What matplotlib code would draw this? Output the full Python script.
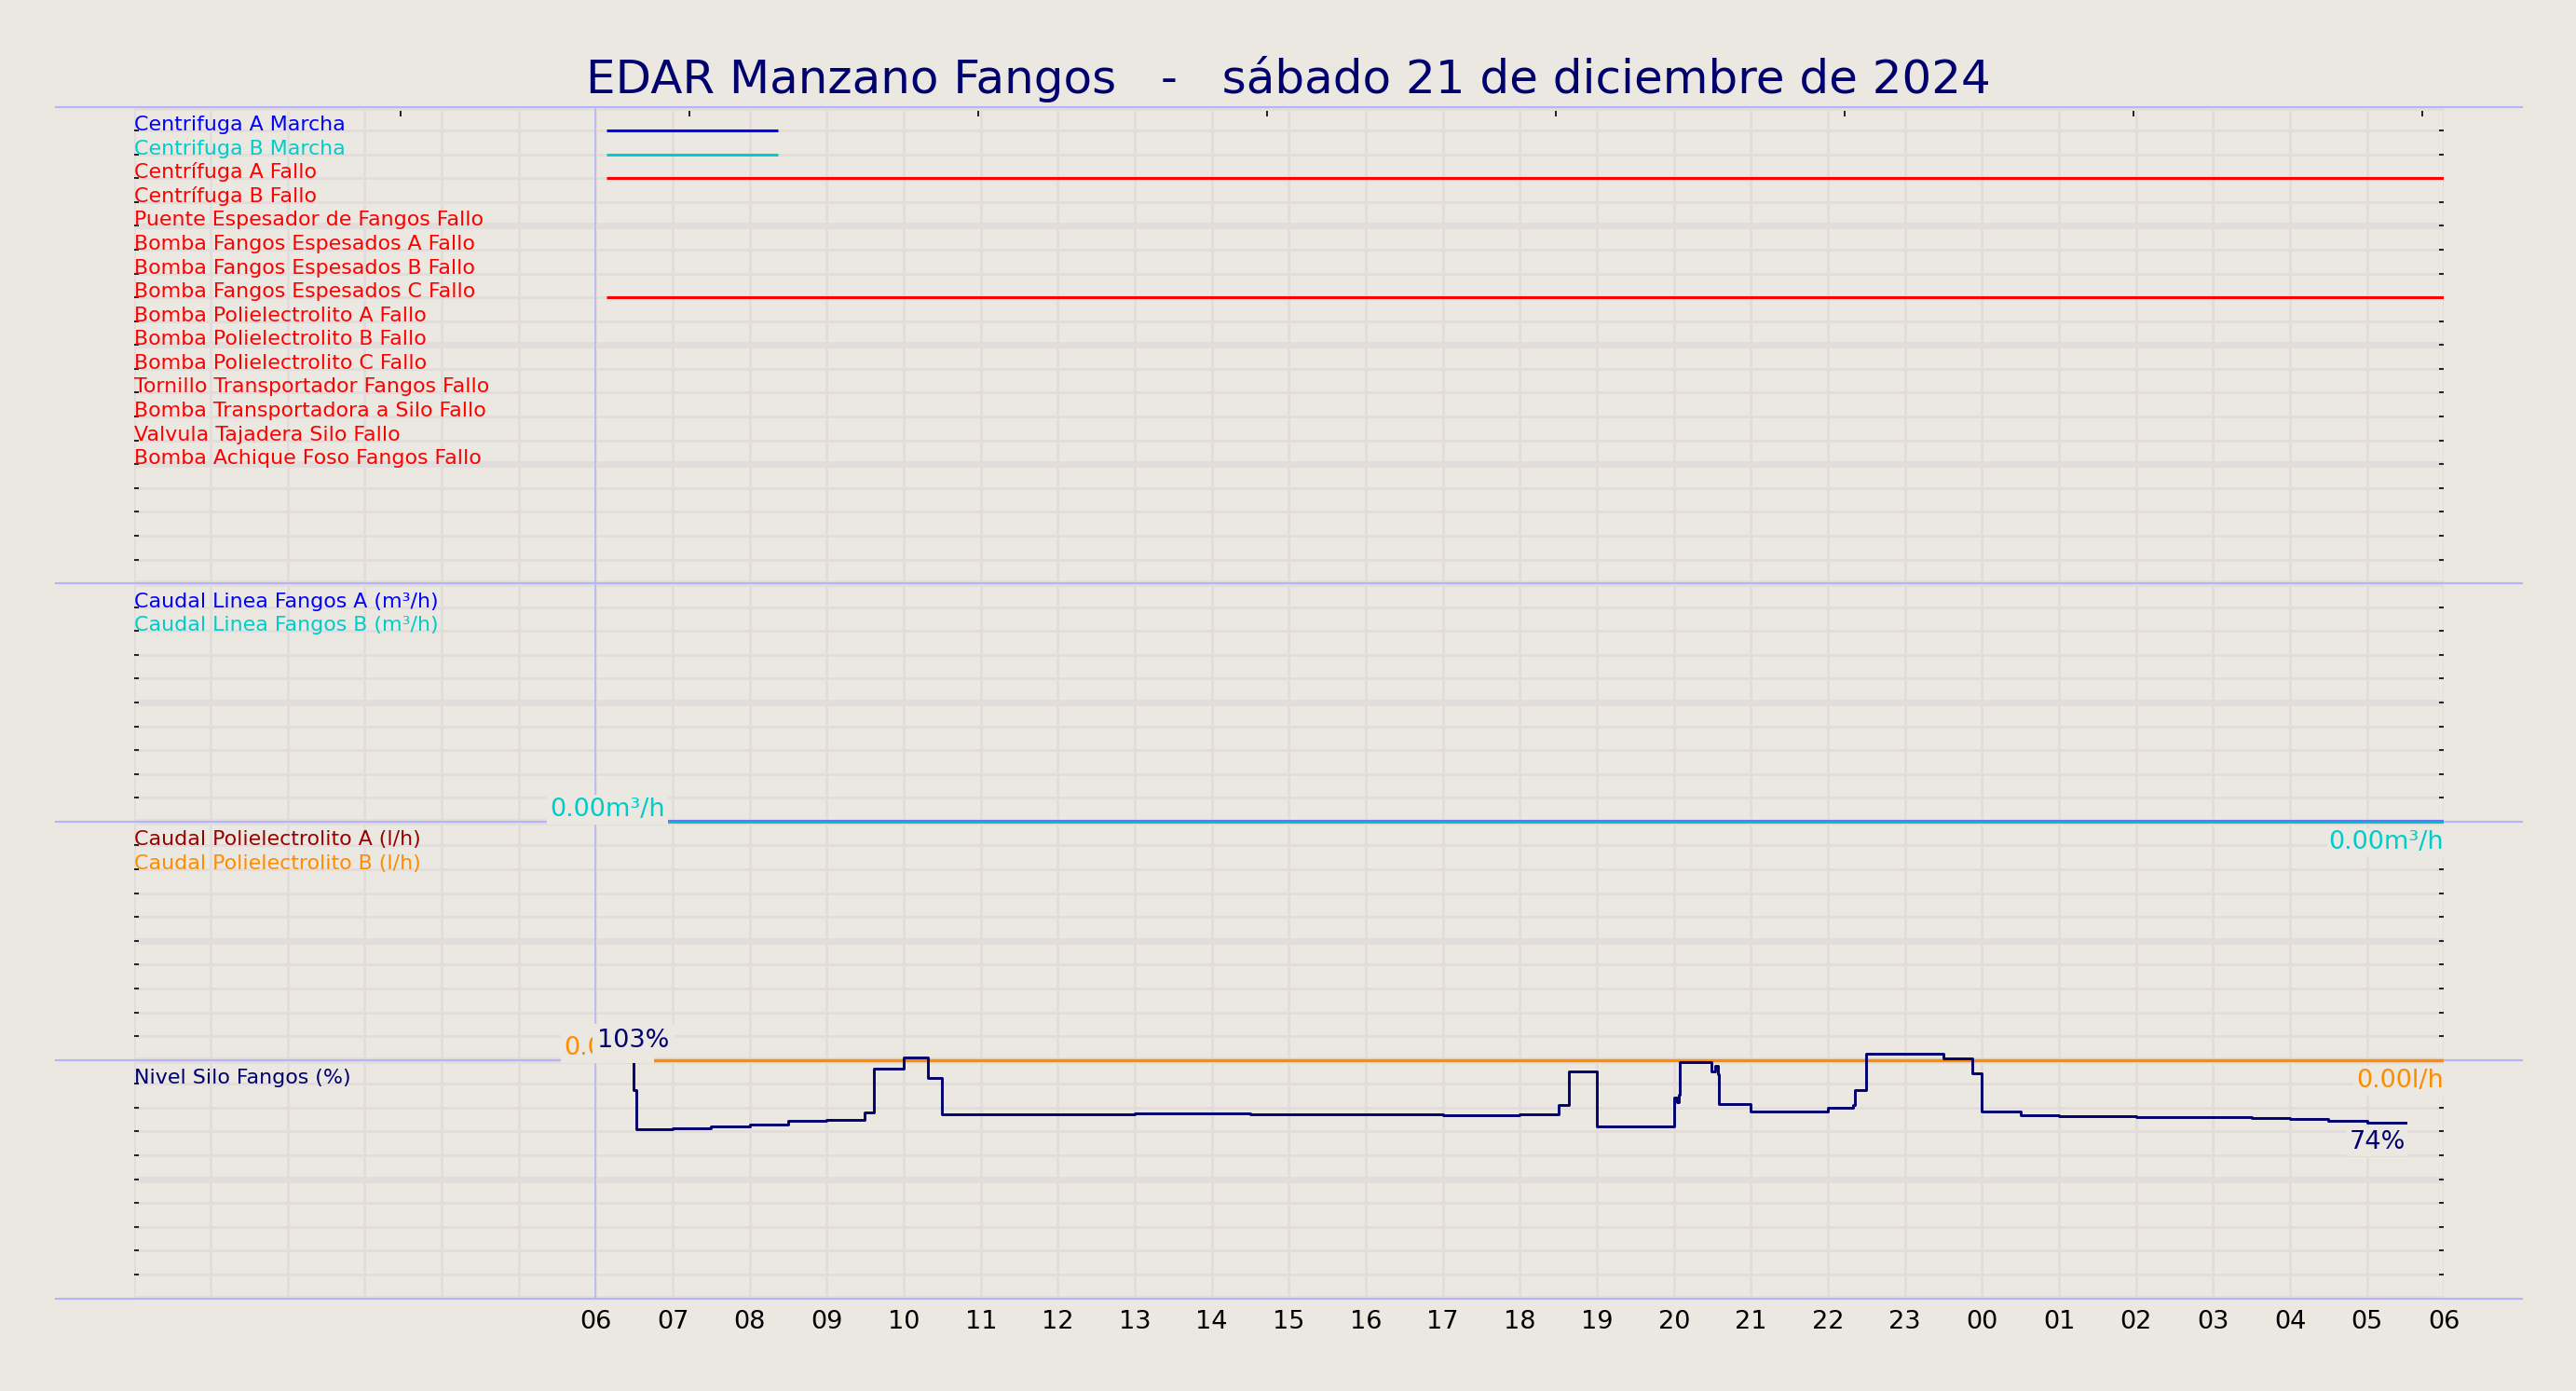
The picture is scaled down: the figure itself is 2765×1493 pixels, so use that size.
import numpy as np
import matplotlib.pyplot as plt
from matplotlib.transforms import blended_transform_factory

BG = '#ebe7e1'
GRID = '#e2dcdb'
SEP = '#b4b4fa'
NAVY = '#00006e'

titulo = "EDAR Manzano Fangos   -   sábado 21 de diciembre de 2024"

# hours since 00:00 of the day; the window ends 06:00 of the next day
hour_labels = ['06', '07', '08', '09', '10', '11', '12', '13', '14', '15', '16',
               '17', '18', '19', '20', '21', '22', '23', '00', '01', '02', '03',
               '04', '05', '06']
top_ticks = [3.47, 7.22, 10.97, 14.72, 18.47, 22.22, 25.97, 29.72]

# digital signals: one row each
digital_names = ['Centrifuga A Marcha', 'Centrifuga B Marcha', 'Centrífuga A Fallo',
                 'Centrífuga B Fallo', 'Puente Espesador de Fangos Fallo',
                 'Bomba Fangos Espesados A Fallo', 'Bomba Fangos Espesados B Fallo',
                 'Bomba Fangos Espesados C Fallo', 'Bomba Polielectrolito A Fallo',
                 'Bomba Polielectrolito B Fallo', 'Bomba Polielectrolito C Fallo',
                 'Tornillo Transportador Fangos Fallo', 'Bomba Transportadora a Silo Fallo',
                 'Valvula Tajadera Silo Fallo', 'Bomba Achique Foso Fangos Fallo']
digital_colors = ['#0000ff', '#00cccc'] + ['#ff0000'] * 13
# active intervals (start, end) per row index
digital_on = {0: [(6.14, 8.37)], 1: [(6.14, 8.37)],
              2: [(6.14, 30.0)], 7: [(6.14, 30.0)]}

caudal_names = ['Caudal Linea Fangos A (m³/h)', 'Caudal Linea Fangos B (m³/h)']
caudal_colors = ['#0000ff', '#00cccc']
caudal_t = [6.15, 30.0]
caudal_a = [0.0, 0.0]
caudal_b = [0.0, 0.0]
caudal_max = 50.0

poli_names = ['Caudal Polielectrolito A (l/h)', 'Caudal Polielectrolito B (l/h)']
poli_colors = ['#990000', '#ff8c00']
poli_t = [6.15, 30.0]
poli_a = [0.0, 0.0]
poli_b = [0.0, 0.0]
poli_max = 500.0

nivel_name = 'Nivel Silo Fangos (%)'
nivel_t = [6.49, 6.495, 6.53, 7.0, 7.5, 8.0, 8.5, 9.0, 9.49, 9.61, 10.0, 10.31, 10.5,
           13.0, 14.5, 17.0, 18.0, 18.5, 18.64, 19.0, 20.0, 20.04, 20.06, 20.08, 20.49,
           20.54, 20.57, 20.58, 21.0, 22.0, 22.33, 22.35, 22.5, 23.5, 23.87, 24.0, 24.5,
           25.0, 26.0, 27.5, 28.0, 28.5, 29.0, 29.5]
nivel_v = [103, 87.2, 70.9, 71.3, 72.1, 72.9, 74.3, 74.8, 78.1, 96.5, 101.1, 92.5, 77.2,
           77.7, 77.2, 76.8, 77.3, 81.1, 95.2, 72.2, 84.3, 82.2, 85.4, 99.2, 95.2,
           97.5, 94.1, 81.5, 78.4, 80.0, 81.2, 87.4, 102.6, 100.5, 94.5, 78.4, 76.8,
           76.4, 76.0, 75.6, 75.2, 74.5, 73.7, 73.7]

W, H = 2765, 1493
fig = plt.figure(figsize=(W / 100, H / 100), dpi=100, facecolor=BG)
ax = fig.add_axes([143.5 / W, 1 - 1393.5 / H, (2623.3 - 143.5) / W, 1279 / H])
ax.set_facecolor(BG)
ax.set_xlim(0, 30)
ax.set_ylim(50, 0)
for s in ax.spines.values():
    s.set_visible(False)

ax.set_axisbelow(True)
ax.set_yticks(range(0, 51, 5))
ax.set_yticks(range(0, 51), minor=True)
ax.tick_params(axis='y', which='both', direction='in', left=True, right=True,
               length=3.8, width=1.2, labelleft=False, labelright=False)
ax.yaxis.grid(True, which='major', color=GRID, lw=5)
ax.yaxis.grid(True, which='minor', color=GRID, lw=2)
ax.set_xticks(range(0, 31))
ax.set_xticklabels([''] * 6 + hour_labels)
ax.set_xticks(top_ticks, minor=True)
ax.tick_params(axis='x', which='major', length=0, pad=9, labelsize=19.5)
ax.tick_params(axis='x', which='minor', bottom=False, top=True, direction='in',
               length=7.5, width=1.2)
ax.xaxis.grid(True, which='major', color=GRID, lw=2)

# panel separators running a bit past the axes
trans = blended_transform_factory(ax.transAxes, ax.transData)
for u in [0, 20, 30, 40, 50]:
    ax.plot([-0.0337, 1.0337], [u, u], transform=trans, color=SEP, lw=1.5,
            clip_on=False, zorder=2.6)
ax.axvline(6, color=SEP, lw=1.1, zorder=2.6)

lab = dict(fontsize=15.9, ha='left', va='baseline', zorder=5)

# panel 1: digital signals
for i, (name, col) in enumerate(zip(digital_names, digital_colors)):
    row = i + 1
    ax.text(0.0, row, name, color=col, **lab)
    for a, b in digital_on.get(i, []):
        ax.plot([a, b], [row, row], color=col, lw=2.2, zorder=4, solid_capstyle='butt')


def box(pad):
    return dict(boxstyle='square,pad=%.2f' % pad, fc=BG, ec='none')


def value_line(t, v, base, vmax, col, unit, lw, alpha=1.0):
    y = [base - x / vmax * 10 for x in v]
    ax.plot(t, y, color=col, lw=lw, zorder=4, drawstyle='steps-post', alpha=alpha)
    ax.text(t[0], y[0], '%.2f%s' % (v[0], unit), color=col, fontsize=19.5,
            ha='center', va='bottom', bbox=box(0.12), zorder=5)
    ax.text(t[-1], y[-1] + 0.35, '%.2f%s' % (v[-1], unit), color=col, fontsize=19.5,
            ha='right', va='top', bbox=box(0.08), zorder=5)


# panel 2: sludge flows
for k, (name, col) in enumerate(zip(caudal_names, caudal_colors)):
    ax.text(0.0, 21 + k, name, color=col, **lab)
value_line(caudal_t, caudal_a, 30, caudal_max, caudal_colors[0], 'm³/h', 2.6, 0.6)
value_line(caudal_t, caudal_b, 30, caudal_max, caudal_colors[1], 'm³/h', 1.8, 0.9)

# panel 3: polyelectrolyte flows
for k, (name, col) in enumerate(zip(poli_names, poli_colors)):
    ax.text(0.0, 31 + k, name, color=col, **lab)
value_line(poli_t, poli_a, 40, poli_max, poli_colors[0], 'l/h', 1.4)
value_line(poli_t, poli_b, 40, poli_max, poli_colors[1], 'l/h', 2.4)

# panel 4: silo level
ax.text(0.0, 41, nivel_name, color=NAVY, **lab)
ny = [50 - x / 10 for x in nivel_v]
ax.plot(nivel_t, ny, color=NAVY, lw=2.1, zorder=4, drawstyle='steps-post')
ax.text(nivel_t[0], ny[0], '%d%%' % round(nivel_v[0]), color=NAVY, fontsize=19.5,
        ha='center', va='bottom', bbox=box(0.2), zorder=6)
ax.text(nivel_t[-1], ny[-1] + 0.3, '%d%%' % round(nivel_v[-1]), color=NAVY, fontsize=19.5,
        ha='right', va='top', bbox=box(0.08), zorder=6)

fig.text(0.5, 1 - 100 / H, titulo, ha='center', va='baseline', fontsize=36, color=NAVY)

fig.savefig('out.png', dpi=100, facecolor=BG)
